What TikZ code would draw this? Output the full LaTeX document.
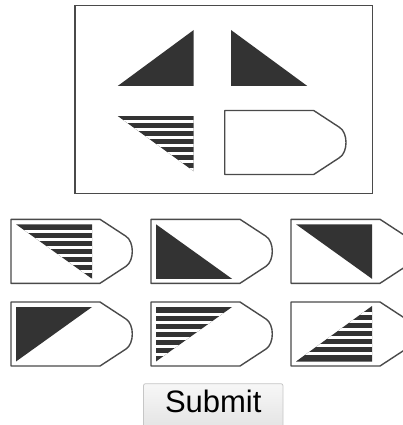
\documentclass[tikz,border=0pt]{standalone}
\usepackage{fontspec}
\usepackage{xcolor}
\newfontfamily\uifont{Liberation Sans}
\definecolor{ink}{HTML}{333333}
\definecolor{edge}{HTML}{4A4A4A}
\definecolor{btnedge}{HTML}{C6C6C6}
\definecolor{btntop}{HTML}{F7F7F7}
\definecolor{btnbottom}{HTML}{E2E2E2}
\tikzset{
  frame/.style={draw=edge, line width=1.3pt},
  tagline/.style={draw=edge, line width=1.4pt, fill=white, line join=round},
  darktri/.style={fill=ink},
  stripe/.style={draw=white, line width=3pt},
  button/.style={draw=btnedge, line width=0.8pt, top color=btntop, bottom color=btnbottom,
                 rounded corners=2pt, minimum width=139.5pt, text height=22.5pt, text depth=14pt,
                 inner sep=6pt, font=\uifont\fontsize{31}{37}\selectfont, text=black}
}
\newcommand{\tagoutline}{(0,0) -- (89,0) -- (115,17) .. controls (123.4,22.5) and (123.4,41.5) .. (115,47) -- (89,64) -- (0,64) -- cycle}

\begin{document}
\begin{tikzpicture}[x=1pt,y=-1pt]
    \useasboundingbox (0,0) rectangle (403,425);

    % Question panel
    \draw[frame] (75,5.5) rectangle (372.7,193.3);
    \fill[darktri] (117.7,86) -- (193.7,86) -- (193.7,30) -- cycle;
    \fill[darktri] (231,30) -- (231,86) -- (307.3,86) -- cycle;
    \fill[darktri] (117.7,116) -- (193.7,116) -- (193.7,171.3) -- cycle;
    \begin{scope}
      \clip (117.7,116) -- (193.7,116) -- (193.7,171.3) -- cycle;
      \foreach \y in {121.5,129.5,...,169.5}
        \draw[stripe] (110,\y) -- (200,\y);
    \end{scope}
    \begin{scope}[shift={(224.7,110.5)}]
      \draw[tagline] \tagoutline;
    \end{scope}

    % Option 1: striped, corner top right
    \begin{scope}[shift={(11,219.3)}]
      \draw[tagline] \tagoutline;
      \fill[darktri] (5,5) -- (81,5) -- (81,59.5) -- cycle;
      \begin{scope}
        \clip (5,5) -- (81,5) -- (81,59.5) -- cycle;
        \foreach \y in {12.5,20.5,...,60.5}
          \draw[stripe] (0,\y) -- (90,\y);
      \end{scope}
    \end{scope}

    % Option 2: solid, corner bottom left
    \begin{scope}[shift={(151,219.3)}]
      \draw[tagline] \tagoutline;
      \fill[darktri] (5,5) -- (5,59.5) -- (81,59.5) -- cycle;
    \end{scope}

    % Option 3: solid, corner top right
    \begin{scope}[shift={(291,219.3)}]
      \draw[tagline] \tagoutline;
      \fill[darktri] (5,5) -- (81,5) -- (81,59.5) -- cycle;
    \end{scope}

    % Option 4: solid, corner top left
    \begin{scope}[shift={(11,302)}]
      \draw[tagline] \tagoutline;
      \fill[darktri] (5,5) -- (81,5) -- (5,59.5) -- cycle;
    \end{scope}

    % Option 5: striped, corner top left
    \begin{scope}[shift={(151,302)}]
      \draw[tagline] \tagoutline;
      \fill[darktri] (5,5) -- (81,5) -- (5,59.5) -- cycle;
      \begin{scope}
        \clip (5,5) -- (81,5) -- (5,59.5) -- cycle;
        \foreach \y in {12.5,20.5,...,52.5}
          \draw[stripe] (0,\y) -- (90,\y);
      \end{scope}
    \end{scope}

    % Option 6: striped, corner bottom right
    \begin{scope}[shift={(291,302)}]
      \draw[tagline] \tagoutline;
      \fill[darktri] (5,59.5) -- (81,59.5) -- (81,4) -- cycle;
      \begin{scope}
        \clip (5,59.5) -- (81,59.5) -- (81,4) -- cycle;
        \foreach \y in {11.5,19.5,...,51.5}
          \draw[stripe] (0,\y) -- (90,\y);
      \end{scope}
    \end{scope}

    \node[button, anchor=north] (submit) at (213.25,383.3) {Submit};
\end{tikzpicture}
\end{document}
